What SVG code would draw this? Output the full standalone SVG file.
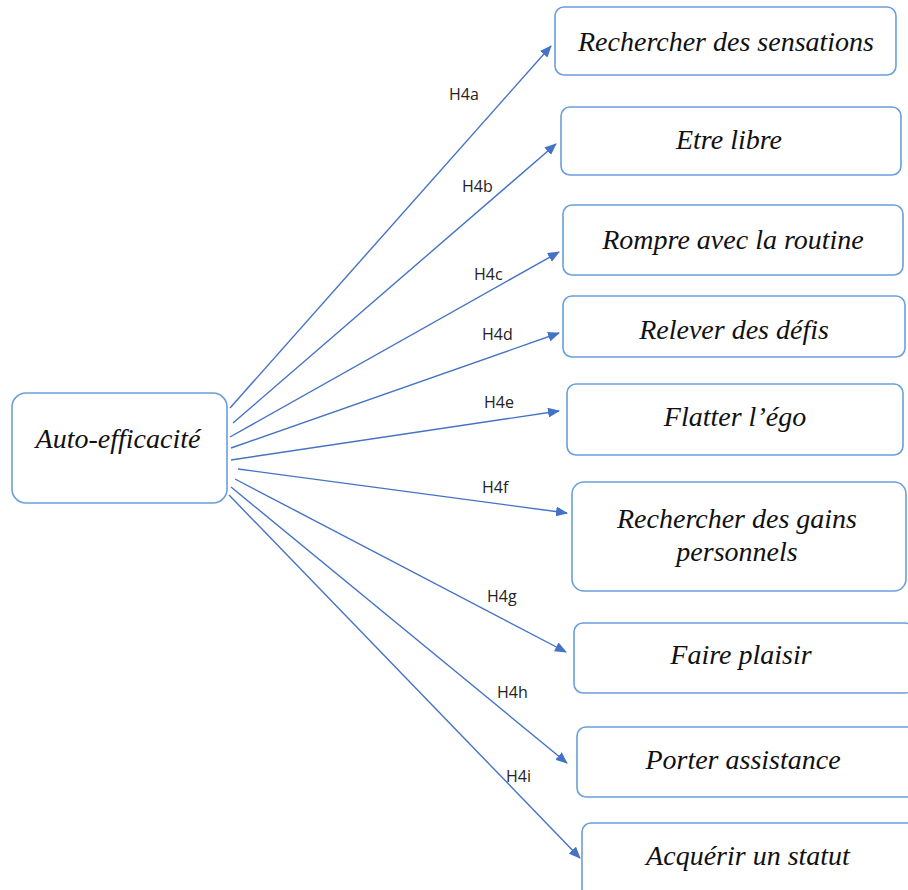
<svg xmlns="http://www.w3.org/2000/svg" width="908" height="890" viewBox="0 0 908 890">
<style>
.box{fill:#fff;stroke:#6a9fdb;stroke-width:1.6}
.t{font-family:"Liberation Serif","DejaVu Serif",serif;font-style:italic;font-size:28px;fill:#111;text-anchor:middle}
.l{font-family:"Open Sans","Liberation Sans",sans-serif;font-size:16px;fill:#222}
.c{stroke:#4472c4;stroke-width:1.4;fill:none;marker-end:url(#ah)}
</style>
<defs>
<marker id="ah" viewBox="0 0 12 10" refX="11" refY="5" markerWidth="12" markerHeight="10" markerUnits="userSpaceOnUse" orient="auto">
<path d="M0,0 L12,5 L0,10 Z" fill="#4472c4"/>
</marker>
</defs>
<rect width="908" height="890" fill="#fff"/>
<g id="src"><rect class="box" x="12" y="393" width="215" height="110" rx="14"/><text class="t" x="118" y="448">Auto-efficacité</text></g>
<g id="n1"><rect class="box" x="555" y="7" width="341" height="68" rx="9"/><text class="t" x="726" y="51">Rechercher des sensations</text></g>
<g id="n2"><rect class="box" x="561" y="107" width="340" height="68" rx="9"/><text class="t" x="729" y="149">Etre libre</text></g>
<g id="n3"><rect class="box" x="563" y="205" width="340" height="70" rx="9"/><text class="t" x="733" y="249">Rompre avec la routine</text></g>
<g id="n4"><rect class="box" x="563" y="296" width="342" height="61" rx="9"/><text class="t" x="734" y="339">Relever des défis</text></g>
<g id="n5"><rect class="box" x="567" y="384" width="336" height="71" rx="9"/><text class="t" x="735" y="426">Flatter l’égo</text></g>
<g id="n6"><rect class="box" x="572" y="482" width="334" height="109" rx="12"/><text class="t" x="737" y="528">Rechercher des gains</text><text class="t" x="737" y="561">personnels</text></g>
<g id="n7"><rect class="box" x="574" y="623" width="340" height="70" rx="9"/><text class="t" x="741" y="664">Faire plaisir</text></g>
<g id="n8"><rect class="box" x="577" y="727" width="340" height="70" rx="9"/><text class="t" x="743" y="769">Porter assistance</text></g>
<g id="n9"><rect class="box" x="582" y="823" width="340" height="80" rx="9"/><text class="t" x="748" y="865">Acquérir un statut</text></g>
<g id="connectors">
<line class="c" x1="230" y1="408" x2="551" y2="46"/>
<line class="c" x1="233" y1="423" x2="556" y2="144"/>
<line class="c" x1="230" y1="437" x2="559" y2="252"/>
<line class="c" x1="231" y1="448" x2="559" y2="333"/>
<line class="c" x1="231" y1="460" x2="559" y2="411"/>
<line class="c" x1="238" y1="469" x2="567" y2="513"/>
<line class="c" x1="235" y1="479" x2="566" y2="652"/>
<line class="c" x1="231" y1="487" x2="567" y2="763"/>
<line class="c" x1="229" y1="495" x2="580" y2="858"/>
</g>
<g id="labels">
<text class="l" x="449" y="100">H4a</text>
<text class="l" x="462" y="192">H4b</text>
<text class="l" x="474" y="280">H4c</text>
<text class="l" x="482" y="340">H4d</text>
<text class="l" x="484" y="408">H4e</text>
<text class="l" x="482" y="493">H4f</text>
<text class="l" x="487" y="602">H4g</text>
<text class="l" x="497" y="698">H4h</text>
<text class="l" x="506" y="782">H4i</text>
</g>
</svg>
